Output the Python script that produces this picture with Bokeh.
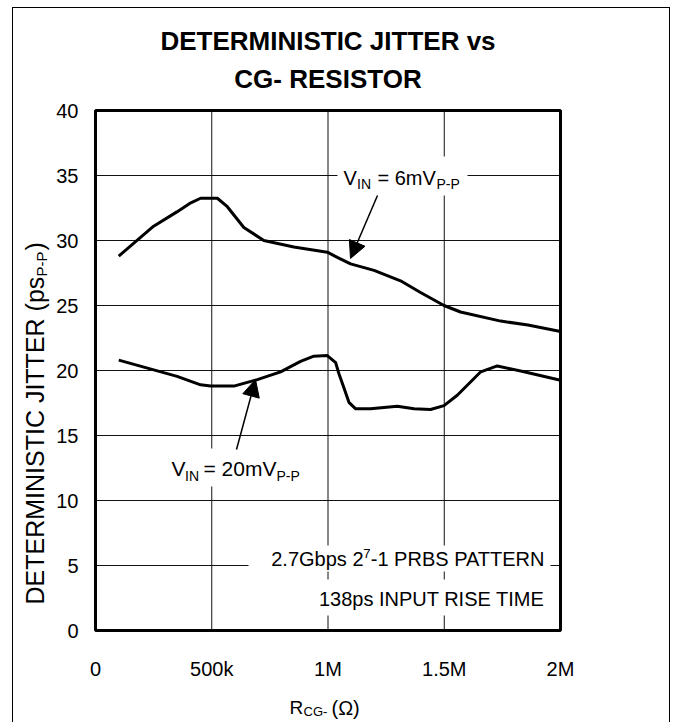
import math
from bokeh.plotting import figure
from bokeh.models import Label, Arrow, NormalHead, FixedTicker, BoxAnnotation, Range1d
from bokeh.embed import file_html
from bokeh.resources import INLINE

# ---------------- data ----------------
x_6mv = [100e3, 250e3, 350e3, 410e3, 452e3, 524e3, 567e3, 638e3, 724e3, 853e3,
         997e3, 1040e3, 1097e3, 1198e3, 1312e3, 1398e3, 1499e3, 1570e3, 1743e3, 1860e3, 2000e3]
y_6mv = [28.8, 31.1, 32.2, 32.9, 33.25, 33.25, 32.6, 31.0, 30.0, 29.5,
         29.1, 28.7, 28.2, 27.7, 26.9, 26.0, 25.0, 24.5, 23.8, 23.5, 23.0]

x_20mv = [100e3, 351e3, 452e3, 495e3, 595e3, 696e3, 796e3, 882e3, 939e3, 997e3,
          1033e3, 1047e3, 1068e3, 1090e3, 1119e3, 1183e3, 1298e3, 1370e3, 1441e3,
          1499e3, 1556e3, 1657e3, 1728e3, 1843e3, 2000e3]
y_20mv = [20.8, 19.55, 18.9, 18.8, 18.8, 19.3, 19.9, 20.7, 21.1, 21.15,
          20.6, 19.75, 18.7, 17.55, 17.05, 17.05, 17.25, 17.05, 17.0,
          17.3, 18.1, 19.9, 20.35, 19.9, 19.25]

x_ticks = [0, 500000, 1000000, 1500000, 2000000]
x_tick_labels = ["0", "500k", "1M", "1.5M", "2M"]
y_ticks = [0, 5, 10, 15, 20, 25, 30, 35, 40]

FONT = "Liberation Sans"

OX, OY = 13, 8            # canvas origin on the page (after css margin + border)
W, H = 658, 715
FL, FR, FT, FB = 95, 560, 110, 630  # plot box edges in page px


def dx(px):
    return (px - FL) / (FR - FL) * (x_ticks[-1] - x_ticks[0]) + x_ticks[0]


def dy(py):
    return y_ticks[-1] - (py - FT) / (FB - FT) * (y_ticks[-1] - y_ticks[0])


# the frame covers the whole canvas so that every text can be drawn inside it
p = figure(width=W, height=H, output_backend="svg", toolbar_location=None,
           x_range=Range1d(dx(OX), dx(OX + W)), y_range=Range1d(dy(OY + H), dy(OY)),
           min_border=0, min_border_left=0, min_border_right=0,
           min_border_top=0, min_border_bottom=0)
p.styles = {"margin-left": "12px", "margin-top": "7px",
            "border-left": "1px solid black", "border-top": "1px solid black",
            "border-right": "1px solid black"}
p.outline_line_color = None
p.grid.visible = False

for ax in (p.xaxis[0], p.yaxis[0]):
    ax.axis_line_color = None
    ax.major_tick_in = 0
    ax.major_tick_out = 0
    ax.minor_tick_in = 0
    ax.minor_tick_out = 0
    ax.major_label_text_font = FONT
    ax.major_label_text_font_size = "20px"
    ax.major_label_text_color = "black"

p.xaxis.fixed_location = y_ticks[0]
p.xaxis.bounds = (x_ticks[0], x_ticks[-1])
p.xaxis.ticker = FixedTicker(ticks=x_ticks)
p.xaxis.major_label_overrides = {t: l for t, l in zip(x_ticks, x_tick_labels)}
p.xaxis.major_label_standoff = 27
p.yaxis.fixed_location = x_ticks[0]
p.yaxis.bounds = (y_ticks[0], y_ticks[-1])
p.yaxis.ticker = FixedTicker(ticks=y_ticks)
p.yaxis.major_label_standoff = 17

# grid lines from the tick arrays
vx = x_ticks[1:-1]
p.segment(x0=vx, x1=vx, y0=[y_ticks[0]] * len(vx), y1=[y_ticks[-1]] * len(vx),
          line_color="#111111", line_width=1)
hy = y_ticks[1:-1]
p.segment(x0=[x_ticks[0]] * len(hy), x1=[x_ticks[-1]] * len(hy), y0=hy, y1=hy,
          line_color="#111111", line_width=1)

# curves
p.line(x_6mv, y_6mv, line_color="black", line_width=3, line_join="round")
p.line(x_20mv, y_20mv, line_color="black", line_width=3, line_join="round")

# plot box
p.quad(left=[x_ticks[0]], right=[x_ticks[-1]], bottom=[y_ticks[0]], top=[y_ticks[-1]],
       fill_color=None, line_color="black", line_width=3)

# white backgrounds for annotation texts
for l, r, t, b in [(337, 467, 156, 195), (166, 300, 448, 486),
                   (248, 550, 545, 571), (318, 550, 579, 615)]:
    p.add_layout(BoxAnnotation(left=dx(l), right=dx(r), top=dy(t), bottom=dy(b),
                               fill_color="white", fill_alpha=1, line_color=None))

# arrows
p.add_layout(Arrow(x_start=dx(377), y_start=dy(195), x_end=dx(350), y_end=dy(258),
                   line_width=1.5, line_color="black",
                   end=NormalHead(size=17, fill_color="black", line_color="black")))
p.add_layout(Arrow(x_start=dx(236), y_start=dy(449), x_end=dx(255), y_end=dy(379),
                   line_width=1.5, line_color="black",
                   end=NormalHead(size=17, fill_color="black", line_color="black")))


def lab(text, px, py, size, bold=False, align="left", angle=0.0):
    """py is the vertical centre of the capitals (x centre when rotated)"""
    p.add_layout(Label(x=dx(px), y=dy(py), text=text, text_font=FONT,
                       text_font_size=f"{size}px", text_color="black",
                       text_font_style="bold" if bold else "normal",
                       text_align=align, text_baseline="middle", angle=angle))


# title
lab("DETERMINISTIC JITTER vs", 327.5, 40, 26, bold=True, align="center")
lab("CG- RESISTOR", 327.5, 78, 26, bold=True, align="center")

# V_IN = 6mV_P-P
lab("V", 343, 177, 20)
lab("IN", 356.5, 183.5, 14)
lab("= 6mV", 377, 177, 20)
lab("P-P", 436, 183.5, 14)

# V_IN = 20mV_P-P
lab("V", 171, 468, 21)
lab("IN", 184.5, 475, 14)
lab("= 20mV", 203, 468, 21)
lab("P-P", 276, 475, 14)

# note box
lab("-1 PRBS PATTERN", 544, 558.5, 20, align="right")
lab("7", 370, 552.5, 13, align="right")
lab("2.7Gbps 2", 363, 558.5, 20, align="right")
lab("138ps INPUT RISE TIME", 544, 598, 20, align="right")

# x axis title  R_CG- (Ω)
lab("R", 289, 707, 19)
lab("CG-", 303, 711, 13)
lab("(\u03a9)", 331, 707, 20)

# y axis title  DETERMINISTIC JITTER (ps_P-P), rotated: px is the centre of the capitals
lab("DETERMINISTIC JITTER (ps", 34.5, 604, 25, angle=math.pi / 2)
lab("P-P", 41, 276, 15, angle=math.pi / 2)
lab(")", 34.5, 250, 25, angle=math.pi / 2)

open("out.html", "w").write(file_html(p, INLINE))
